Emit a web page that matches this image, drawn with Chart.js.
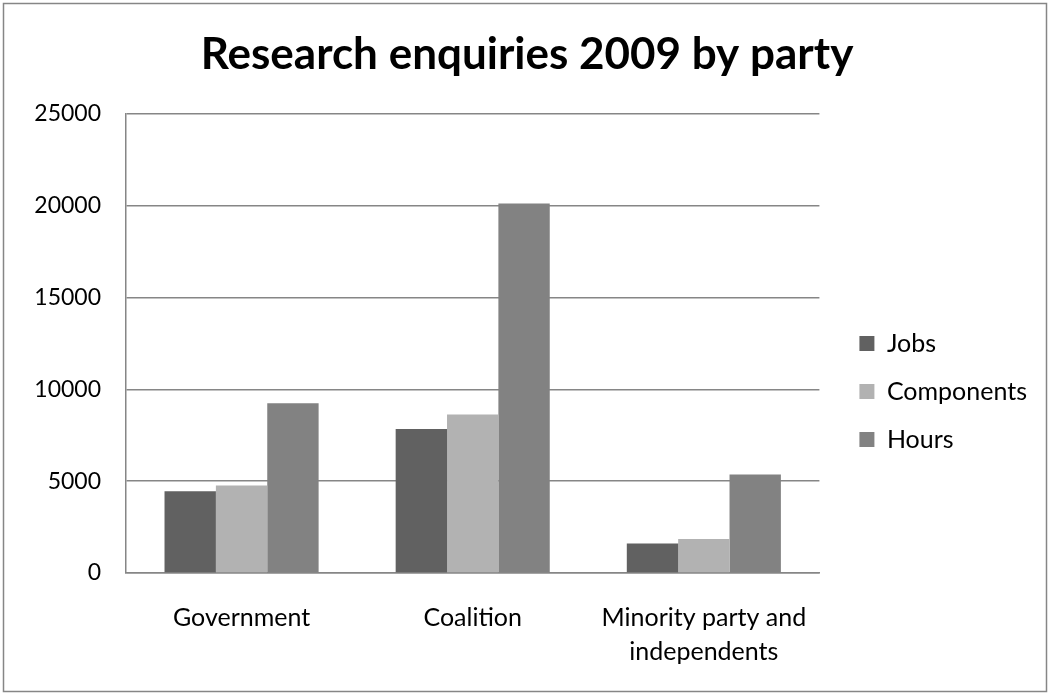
<!DOCTYPE html>
<html lang="en">
<head>
<meta charset="UTF-8">
<title>Research enquiries 2009 by party</title>
<script src="https://cdn.jsdelivr.net/npm/chart.js@4.4.0/dist/chart.umd.min.js"></script>
<style>
  body { margin:0; background:#FFFFFF; }
  #wrap { width:1050px; height:693px; position:relative; }
</style>
</head>
<body>
<div id="wrap"><canvas id="enquiry_chart" width="1050" height="693"></canvas></div>
<script>
// data
const parties = ['Government', 'Coalition', ['Minority party and', 'independents']];
const jobs = [4450, 7840, 1610];
const components = [4770, 8630, 1850];
const hours = [9250, 20130, 5370];
const yTicks = [0, 5000, 10000, 15000, 20000, 25000];

const gray = '#868686';
const fontName = 'Lato';

// outer frame of the chart
const framePlugin = {
	id: 'frame',
	beforeDraw(chart) {
		const c = chart.ctx;
		c.save();
		c.fillStyle = '#FFFFFF';
		c.fillRect(0, 0, chart.width, chart.height);
		c.strokeStyle = gray;
		c.lineWidth = 1.5;
		c.strokeRect(3.5, 3.5, chart.width - 7, chart.height - 5);
		c.restore();
	}
};

// push the legend down a bit, like in the original
const legendShift = {
	id: 'legendShift',
	afterLayout(chart) {
		chart.legend.top += 45;
		chart.legend.bottom += 45;
	}
};

let eChart = new Chart(document.getElementById('enquiry_chart'), {
	type: 'bar',
	data: {
		labels: parties,
		datasets: [
			{label: 'Jobs', data: jobs, backgroundColor: '#616161'},
			{label: 'Components', data: components, backgroundColor: '#b2b2b2'},
			{label: 'Hours', data: hours, backgroundColor: '#828282'}
		]
	},
	plugins: [framePlugin, legendShift],
	options: {
		responsive: false,
		animation: false,
		categoryPercentage: 3 / 4.5,
		barPercentage: 1.0,
		layout: {padding: {left: 17, right: 13, top: 0, bottom: 0}},
		scales: {
			x: {
				grid: {display: false, drawTicks: false},
				border: {color: gray, width: 1.5},
				ticks: {color: '#000', padding: 28, font: {family: fontName, size: 25, lineHeight: 1.36}},
				afterFit: s => { s.height = 693 - 573; }
			},
			y: {
				min: 0, max: 25000,
				afterBuildTicks: s => { s.ticks = yTicks.map(v => ({value: v})); },
				grid: {color: gray, lineWidth: 1.5, drawTicks: false},
				border: {color: gray, width: 1.5},
				ticks: {color: '#000', padding: 25, font: {family: fontName, size: 23}, callback: v => String(v)},
				afterFit: s => { s.width = 126 - 17; }
			},
			y2: {
				position: 'right',
				grid: {display: false, drawTicks: false},
				border: {display: false},
				ticks: {display: false},
				afterFit: s => { s.width = 17; }
			}
		},
		plugins: {
			title: {
				display: true,
				text: 'Research enquiries 2009 by party',
				color: '#000',
				font: {family: fontName, size: 44, weight: 'bold', lineHeight: 1.2},
				padding: {top: 28, bottom: 33.2}
			},
			legend: {
				position: 'right',
				maxWidth: 260,
				labels: {color: '#000', boxWidth: 15, boxHeight: 15, padding: 23, font: {family: fontName, size: 25}}
			},
			tooltip: {enabled: false}
		}
	}
});
</script>
</body>
</html>
